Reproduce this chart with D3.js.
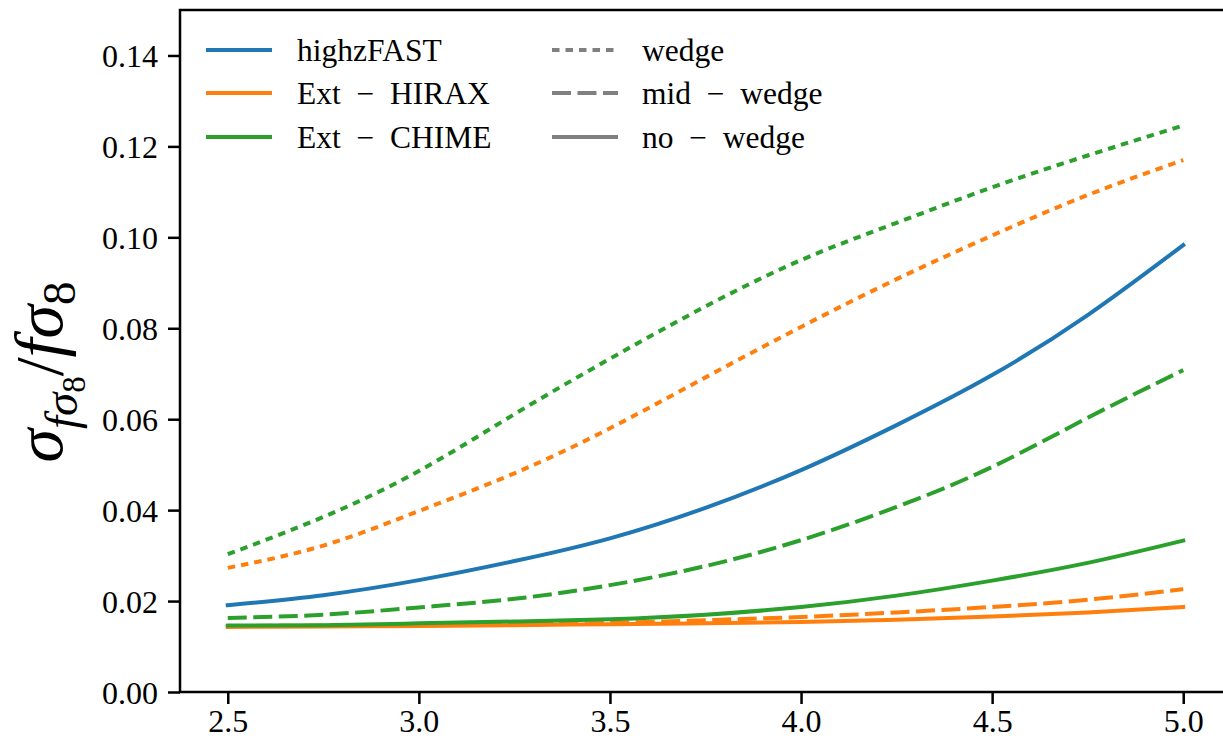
<!DOCTYPE html>
<html>
<head>
<meta charset="utf-8">
<script src="https://cdn.jsdelivr.net/npm/d3@7"></script>
<style>
  html, body { margin: 0; padding: 0; background: #fff; }
  svg { display: block; }
  text { font-family: "Liberation Serif", "Times New Roman", serif; fill: #000; }
</style>
</head>
<body>
<svg id="chart" width="1223" height="740"></svg>
<script>
// ---- data ----
const redshift = [2.5, 2.75, 3.0, 3.25, 3.5, 3.75, 4.0, 4.25, 4.5, 4.75, 5.0];

const highzFAST_noWedge = [0.0191, 0.0213, 0.0246, 0.0288, 0.0338, 0.0405, 0.0488, 0.0587, 0.0697, 0.0829, 0.0983];

const hirax_wedge    = [0.0273, 0.0322, 0.0398, 0.0481, 0.0580, 0.0692, 0.0803, 0.0908, 0.1004, 0.1093, 0.1170];
const hirax_midWedge = [0.0145, 0.0146, 0.0147, 0.0149, 0.0152, 0.0158, 0.0165, 0.0175, 0.0187, 0.0203, 0.0226];
const hirax_noWedge  = [0.0143, 0.0144, 0.0145, 0.0147, 0.0149, 0.0151, 0.0154, 0.0159, 0.0166, 0.0175, 0.0187];

const chime_wedge    = [0.0303, 0.0385, 0.0486, 0.0611, 0.0733, 0.0848, 0.0950, 0.1032, 0.1110, 0.1180, 0.1246];
const chime_midWedge = [0.0163, 0.0170, 0.0186, 0.0205, 0.0235, 0.0277, 0.0334, 0.0407, 0.0495, 0.0603, 0.0708];
const chime_noWedge  = [0.0146, 0.0147, 0.0151, 0.0155, 0.0160, 0.0170, 0.0187, 0.0212, 0.0245, 0.0284, 0.0333];

const xTicks = [2.5, 3.0, 3.5, 4.0, 4.5, 5.0];
const yTicks = [0.00, 0.02, 0.04, 0.06, 0.08, 0.10, 0.12, 0.14];

const experimentNames = ["highzFAST", "Ext \u2212 HIRAX", "Ext \u2212 CHIME"];
const wedgeNames = ["wedge", "mid \u2212 wedge", "no \u2212 wedge"];

// ---- styles ----
const colors = { blue: "#1f77b4", orange: "#ff7f0e", green: "#2ca02c", gray: "#808080" };
const dashes = { wedge: "7.5,6", mid: "19,6.5", none: null };
const LW = 4;

const series = [
  { values: highzFAST_noWedge, color: colors.blue,   dash: dashes.none },
  { values: hirax_wedge,       color: colors.orange, dash: dashes.wedge },
  { values: hirax_midWedge,    color: colors.orange, dash: dashes.mid },
  { values: hirax_noWedge,     color: colors.orange, dash: dashes.none },
  { values: chime_wedge,       color: colors.green,  dash: dashes.wedge },
  { values: chime_midWedge,    color: colors.green,  dash: dashes.mid },
  { values: chime_noWedge,     color: colors.green,  dash: dashes.none },
];

// ---- layout ----
const svg = d3.select("#chart");
const mLeft = 180, mRight = 1231, mTop = 10, mBottom = 692;

const x = d3.scaleLinear().domain([2.375, 5.125]).range([mLeft, mRight]);
const y = d3.scaleLinear().domain([0, 0.15]).range([mBottom, mTop]);

// lines
const line = d3.line()
  .x((d, i) => x(redshift[i]))
  .y(d => y(d))
  .curve(d3.curveNatural);

const plot = svg.append("g");
series.forEach(s => {
  plot.append("path")
    .datum(s.values)
    .attr("d", line)
    .attr("fill", "none")
    .attr("stroke", s.color)
    .attr("stroke-width", LW)
    .attr("stroke-dasharray", s.dash)
    .attr("stroke-linecap", s.dash ? "butt" : "square");
});

// frame
svg.append("rect")
  .attr("x", mLeft).attr("y", mTop)
  .attr("width", mRight - mLeft).attr("height", mBottom - mTop)
  .attr("fill", "none").attr("stroke", "#000").attr("stroke-width", 2.5);

// axes
const xAxis = d3.axisBottom(x).tickValues(xTicks).tickFormat(d3.format(".1f")).tickSize(12).tickPadding(6);
const yAxis = d3.axisLeft(y).tickValues(yTicks).tickFormat(d3.format(".2f")).tickSize(12).tickPadding(10);

const gx = svg.append("g").attr("transform", `translate(0,${mBottom})`).call(xAxis);
const gy = svg.append("g").attr("transform", `translate(${mLeft},0)`).call(yAxis);
[gx, gy].forEach(g => {
  g.select(".domain").remove();
  g.selectAll(".tick line").attr("stroke", "#000").attr("stroke-width", 2.5);
  g.selectAll(".tick text").attr("font-size", 32).attr("fill", "#000");
});
gx.selectAll(".tick text").attr("dy", "0.7em");
gy.selectAll(".tick text").attr("dy", "0.36em");

// y label
const yl = svg.append("text")
  .attr("transform", `translate(62,372) rotate(-90)`)
  .attr("text-anchor", "middle");
yl.append("tspan").attr("font-size", 68).attr("font-style", "italic").text("\u03C3");
yl.append("tspan").attr("font-size", 47).attr("font-style", "italic").attr("dy", 15).text("f\u03C3");
yl.append("tspan").attr("font-size", 33).attr("dy", 8).text("8");
yl.append("tspan").attr("font-size", 68).attr("dy", -23).text("/");
yl.append("tspan").attr("font-size", 68).attr("font-style", "italic").text("f\u03C3");
yl.append("tspan").attr("font-size", 47).attr("dy", 13).text("8");

// legend
const legendRows = [50, 93, 137];
const leg = svg.append("g");
const expColors = [colors.blue, colors.orange, colors.green];
experimentNames.forEach((name, i) => {
  leg.append("line")
    .attr("x1", 206).attr("x2", 272)
    .attr("y1", legendRows[i]).attr("y2", legendRows[i])
    .attr("stroke", expColors[i]).attr("stroke-width", LW);
  leg.append("text")
    .attr("x", 297).attr("y", legendRows[i] + 11)
    .attr("font-size", 31.5)
    .text(name.replace(" \u2212 ", "\u2002\u2212\u2002"));
});
const wedgeDashes = [dashes.wedge, dashes.mid, dashes.none];
wedgeNames.forEach((name, i) => {
  leg.append("line")
    .attr("x1", 552).attr("x2", 618)
    .attr("y1", legendRows[i]).attr("y2", legendRows[i])
    .attr("stroke", colors.gray).attr("stroke-width", LW)
    .attr("stroke-dasharray", wedgeDashes[i]);
  leg.append("text")
    .attr("x", 642).attr("y", legendRows[i] + 11)
    .attr("font-size", 31.5)
    .text(name.replace(" \u2212 ", "\u2002\u2212\u2002"));
});
</script>
</body>
</html>
